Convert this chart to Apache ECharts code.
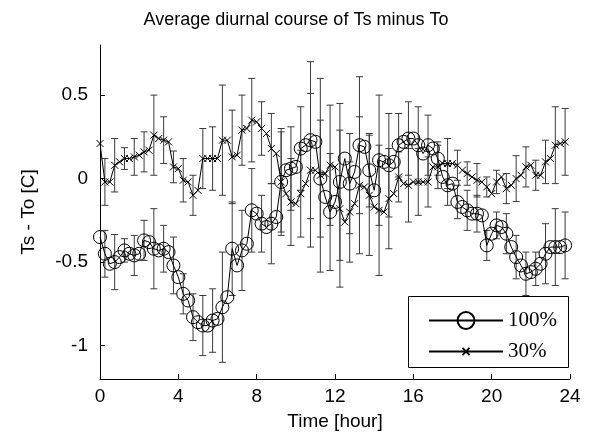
<!DOCTYPE html>
<html>
<head>
<meta charset="utf-8">
<script src="https://cdn.jsdelivr.net/npm/echarts@6/dist/echarts.min.js"></script>
<style>html,body{margin:0;padding:0;background:#fff}#c{width:592px;height:448px}</style>
</head>
<body>
<div id="c"></div>
<script>
// time step of the averaged diurnal course (hours)
const stepHours = 0.25;
const xTicks = [0, 4, 8, 12, 16, 20, 24];
const yTicks = [-1, -0.5, 0, 0.5];

// 100% series (circles), one value per 15 min
const ts100 = [
 -0.35,-0.45,-0.51,-0.50,-0.47,-0.43,-0.45,-0.46,-0.45,-0.37,
 -0.38,-0.42,-0.43,-0.42,-0.44,-0.52,-0.59,-0.69,-0.73,-0.83,
 -0.86,-0.88,-0.88,-0.85,-0.84,-0.77,-0.71,-0.42,-0.52,-0.43,
 -0.39,-0.19,-0.21,-0.27,-0.29,-0.27,-0.23,-0.02,0.05,0.06,
 0.07,0.18,0.20,0.23,0.22,0.00,-0.11,-0.20,-0.14,-0.02,
 0.12,-0.03,0.04,0.20,0.19,0.05,-0.07,0.11,0.10,0.08,
 0.10,0.20,0.22,0.24,0.24,0.20,0.15,0.20,0.18,0.12,
 0.01,-0.04,-0.03,-0.14,-0.17,-0.19,-0.21,-0.21,-0.22,-0.40,
 -0.33,-0.28,-0.29,-0.33,-0.41,-0.47,-0.52,-0.57,-0.56,-0.54,
 -0.51,-0.45,-0.41,-0.41,-0.41,-0.40
];
// 30% series (crosses)
const ts30 = [
 0.21,-0.02,-0.02,0.08,0.10,0.12,0.12,0.13,0.14,0.16,
 0.17,0.26,0.24,0.23,0.22,0.07,0.06,-0.01,-0.02,-0.10,
 -0.07,0.12,0.12,0.12,0.12,0.23,0.23,0.13,0.14,0.29,
 0.30,0.35,0.34,0.30,0.27,0.18,0.15,-0.02,-0.09,-0.14,
 -0.15,-0.09,-0.03,0.05,0.05,0.02,0.03,0.08,0.07,-0.18,
 -0.26,-0.20,-0.15,-0.04,-0.05,-0.10,-0.17,-0.19,-0.20,-0.12,
 -0.09,0.01,-0.03,-0.04,-0.02,-0.02,-0.02,-0.02,0.07,0.07,
 0.09,0.09,0.09,0.08,0.05,0.03,0.01,-0.01,-0.02,-0.05,
 -0.09,-0.02,0.01,-0.06,-0.04,0.00,0.02,0.07,0.08,0.02,
 0.02,0.10,0.12,0.20,0.21,0.22
];
// error-bar half widths, drawn at every second sample (odd indices)
const err100 = [
 0.14,0.165,0.07,0.12,0.12,0.24,0.14,0.17,0.12,0.14,
 0.18,0.19,0.33,0.28,0.24,0.25,0.17,0.24,0.32,0.25,
 0.25,0.47,0.35,0.35,0.47,0.30,0.41,0.22,0.39,0.31,
 0.19,0.22,0.23,0.18,0.10,0.12,0.10,0.12,0.11,0.09,
 0.08,0.12,0.13,0.13,0.10,0.18,0.23,0.20
];
const err30 = [
 0.14,0.16,0.065,0.11,0.12,0.24,0.14,0.095,0.13,0.12,
 0.18,0.19,0.33,0.28,0.21,0.25,0.16,0.21,0.30,0.26,
 0.26,0.46,0.58,0.36,0.47,0.30,0.41,0.36,0.39,0.30,
 0.15,0.22,0.20,0.15,0.13,0.15,0.09,0.07,0.10,0.06,
 0.07,0.09,0.137,0.12,0.09,0.13,0.23,0.20
];

const toLine = arr => arr.map((v, i) => [i * stepHours, v]);
const toErr = (vals, errs) => errs.map((e, j) => {
  const i = 2 * j + 1;
  return [i * stepHours, vals[i] - e, vals[i] + e];
});

const errRender = (params, api) => {
  const x = api.value(0);
  const lo = api.coord([x, api.value(1)]);
  const hi = api.coord([x, api.value(2)]);
  const cap = 3.5;
  const st = {stroke: '#3a3a3a', lineWidth: 1};
  return {type: 'group', children: [
    {type: 'line', shape: {x1: lo[0], y1: lo[1], x2: hi[0], y2: hi[1]}, style: st},
    {type: 'line', shape: {x1: lo[0]-cap, y1: lo[1], x2: lo[0]+cap, y2: lo[1]}, style: st},
    {type: 'line', shape: {x1: hi[0]-cap, y1: hi[1], x2: hi[0]+cap, y2: hi[1]}, style: st}
  ]};
};

const crossPath = 'path://M0,0L10,10M10,0L0,10';
const FONT = 'Liberation Sans';

const chart = echarts.init(document.getElementById('c'), null, {renderer: 'canvas'});
chart.setOption({
  animation: false,
  backgroundColor: '#fff',
  title: {
    text: 'Average diurnal course of Ts minus To',
    left: 'center', top: 6,
    textStyle: {fontFamily: FONT, fontWeight: 'normal', fontSize: 18, color: '#000'}
  },
  grid: {left: 100, top: 45, width: 470, height: 334, containLabel: false},
  xAxis: {
    type: 'value', min: 0, max: 24, interval: 4,
    name: 'Time [hour]', nameLocation: 'middle', nameGap: 33,
    nameTextStyle: {fontFamily: FONT, fontSize: 19, color: '#000'},
    axisLine: {onZero: false, lineStyle: {color: '#000', width: 1}},
    axisTick: {inside: true, length: 5, lineStyle: {color: '#000'}},
    axisLabel: {fontFamily: FONT, fontSize: 19, color: '#000', margin: 8},
    splitLine: {show: false}
  },
  yAxis: {
    type: 'value', min: -1.2, max: 0.8,
    name: 'Ts - To [C]', nameLocation: 'middle', nameGap: 62,
    nameTextStyle: {fontFamily: FONT, fontSize: 19, color: '#000'},
    axisLine: {show: true, onZero: false, lineStyle: {color: '#000', width: 1}},
    axisTick: {show: true, inside: true, length: 5, customValues: yTicks, lineStyle: {color: '#000'}},
    axisLabel: {fontFamily: FONT, fontSize: 19, color: '#000', margin: 12, customValues: yTicks,
      formatter: v => String(v)},
    splitLine: {show: false}
  },
  legend: [
    {data: ['100%'], orient: 'vertical', left: 423, top: 305, itemWidth: 74, itemHeight: 21,
     textStyle: {fontFamily: 'Liberation Serif', fontSize: 21, color: '#000'}},
    {data: ['30%'], orient: 'vertical', left: 423, top: 336, itemWidth: 74, itemHeight: 9,
     textStyle: {fontFamily: 'Liberation Serif', fontSize: 21, color: '#000'}}
  ],
  graphic: [{
    type: 'rect', left: 408, top: 296, z: 0,
    shape: {width: 160, height: 71},
    style: {fill: '#fff', stroke: '#000', lineWidth: 1}
  }],
  series: [
    {type: 'custom', name: 'err100', data: toErr(ts100, err100), renderItem: errRender, z: 1, clip: true, silent: true},
    {type: 'custom', name: 'err30', data: toErr(ts30, err30), renderItem: errRender, z: 1, clip: true, silent: true},
    {type: 'line', name: '100%', data: toLine(ts100), z: 3,
     symbol: 'circle', symbolSize: 13, showAllSymbol: true,
     lineStyle: {color: '#000', width: 1},
     itemStyle: {color: 'rgba(0,0,0,0)', borderColor: '#000', borderWidth: 1}},
    {type: 'line', name: '30%', data: toLine(ts30), z: 3,
     symbol: crossPath, symbolSize: 7, showAllSymbol: true,
     lineStyle: {color: '#000', width: 1},
     itemStyle: {color: '#000', borderColor: '#000', borderWidth: 1}}
  ]
});
</script>
</body>
</html>
